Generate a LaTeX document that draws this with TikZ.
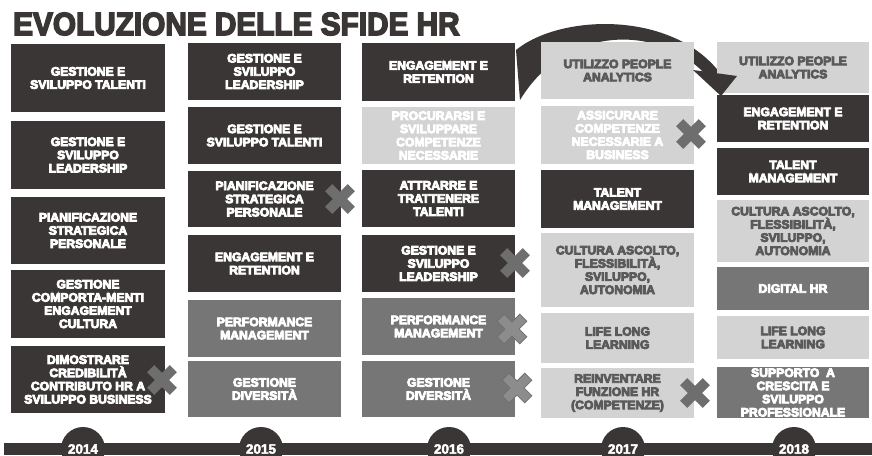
\documentclass[tikz,border=0pt]{standalone}
\usepackage{fontspec}
\setmainfont{Liberation Sans}

\definecolor{hrdark}{HTML}{3B3636}
\definecolor{hrmid}{HTML}{767676}
\definecolor{hrlight}{HTML}{D3D3D3}
\definecolor{hrtext}{HTML}{5A5A5A}
\definecolor{hrcross}{HTML}{6E6E6E}
\definecolor{hrcrosslight}{HTML}{8C8C8C}

% heavier lettering: fill and stroke the glyphs
\newcommand{\spessoon}[1]{\special{pdf:literal direct 2 Tr #1 w}}
\newcommand{\spessooff}{\special{pdf:literal direct 0 Tr 0.4 w}}

\tikzset{
  sfida/.style={inner sep=0pt, outer sep=0pt, align=center,
    font=\bfseries\fontsize{12.2}{13.2}\selectfont,
    execute at begin node={\spessoon{0.8}},
    execute at end node={\spessooff}},
  scura/.style={sfida, fill=hrdark, text=white},
  media/.style={sfida, fill=hrmid, text=white},
  chiara/.style={sfida, fill=hrlight, text=hrtext},
  chiarab/.style={sfida, fill=hrlight, text=white},
  col1/.style={minimum width=154pt},
  col2/.style={minimum width=153pt},
  col3/.style={minimum width=153pt},
  col4/.style={minimum width=153pt},
  col5/.style={minimum width=152pt},
  anno/.style={circle, fill=hrdark, minimum size=44pt, inner sep=0pt,
    text=white, font=\bfseries\fontsize{13.5}{13.5}\selectfont,
    execute at begin node={\spessoon{0.4}},
    execute at end node={\spessooff}},
  croce/.pic={
    \fill[hrcross, rotate=45] (-5,-16) -- (5,-16) -- (5,-5) -- (16,-5) -- (16,5)
      -- (5,5) -- (5,16) -- (-5,16) -- (-5,5) -- (-16,5) -- (-16,-5) -- (-5,-5) -- cycle;
  },
  crocevuota/.pic={
    \filldraw[fill=hrcrosslight, draw=hrcross, line width=0.8pt, rotate=45]
      (-5,-16) -- (5,-16) -- (5,-5) -- (16,-5) -- (16,5) -- (5,5) -- (5,16)
      -- (-5,16) -- (-5,5) -- (-16,5) -- (-16,-5) -- (-5,-5) -- cycle;
  },
}

\begin{document}
\begin{tikzpicture}[x=1pt, y=-1pt]
    \useasboundingbox (0,0) rectangle (872,455);
    \clip (0,0) rectangle (872,455);

    \node[anchor=base west, inner sep=0pt, text=hrdark,
          font=\bfseries\fontsize{32}{32}\selectfont,
          execute at begin node={\spessoon{1.6}},
          execute at end node={\spessooff}] (titolo) at (13,35)
          {\scalebox{0.93}[1]{EVOLUZIONE DELLE SFIDE HR}};

    % swoosh from 2016 to 2018, body behind the boxes
    \coordinate (arcoA) at (516,50);
    \coordinate (arcoB) at (720,73);
    \coordinate (arcoC) at (707,76);
    \coordinate (arcoD) at (520,100);
    \fill[hrdark] (arcoA) .. controls (560,14) and (672,10) .. (arcoB)
        -- (arcoC) .. controls (660,24) and (566,24) .. (arcoD) -- cycle;

    % 2014
    \node[scura, col1, minimum height=68pt] (a1) at (88,78) {GESTIONE E\\SVILUPPO TALENTI};
    \node[scura, col1, minimum height=68pt] (a2) at (88,155) {GESTIONE E\\SVILUPPO\\LEADERSHIP};
    \node[scura, col1, minimum height=67pt] (a3) at (88,230.5) {PIANIFICAZIONE\\STRATEGICA\\PERSONALE};
    \node[scura, col1, minimum height=68pt] (a4) at (88,304) {GESTIONE\\COMPORTA-MENTI\\ENGAGEMENT\\CULTURA};
    \node[scura, col1, minimum height=67pt] (a5) at (88,379.5) {DIMOSTRARE\\CREDIBILITÀ\\CONTRIBUTO HR A\\SVILUPPO BUSINESS};

    % 2015
    \node[scura, col2, minimum height=57pt] (b1) at (264.5,71.5) {GESTIONE E\\SVILUPPO\\LEADERSHIP};
    \node[scura, col2, minimum height=57pt] (b2) at (264.5,135.5) {GESTIONE E\\SVILUPPO TALENTI};
    \node[scura, col2, minimum height=56pt] (b3) at (264.5,199) {PIANIFICAZIONE\\STRATEGICA\\PERSONALE};
    \node[scura, col2, minimum height=57pt] (b4) at (264.5,263.5) {ENGAGEMENT E\\RETENTION};
    \node[media, col2, minimum height=57pt] (b5) at (264.5,328.5) {PERFORMANCE\\MANAGEMENT};
    \node[media, col2, minimum height=56pt] (b6) at (264.5,389) {GESTIONE\\DIVERSITÀ};

    % 2016
    \node[scura, col3, minimum height=58pt] (c1) at (438.5,72) {ENGAGEMENT E\\RETENTION};
    \node[chiarab, col3, minimum height=57pt] (c2) at (438.5,135.5) {PROCURARSI E\\SVILUPPARE\\COMPETENZE\\NECESSARIE};
    \node[scura, col3, minimum height=57pt] (c3) at (438.5,198.5) {ATTRARRE E\\TRATTENERE\\TALENTI};
    \node[scura, col3, minimum height=57pt] (c4) at (438.5,263.5) {GESTIONE E\\SVILUPPO\\LEADERSHIP};
    \node[media, col3, minimum height=57pt] (c5) at (438.5,326.5) {PERFORMANCE\\MANAGEMENT};
    \node[media, col3, minimum height=56pt] (c6) at (438.5,389) {GESTIONE\\DIVERSITÀ};

    % 2017
    \node[chiara, col4, minimum height=57pt] (d1) at (617.5,70.5) {UTILIZZO PEOPLE\\ANALYTICS};
    \node[chiarab, col4, minimum height=58pt] (d2) at (617.5,135) {ASSICURARE\\COMPETENZE\\NECESSARIE A\\BUSINESS};
    \node[scura, col4, minimum height=58pt] (d3) at (617.5,199) {TALENT\\MANAGEMENT};
    \node[chiara, col4, minimum height=74pt] (d4) at (617.5,270) {CULTURA ASCOLTO,\\FLESSIBILITÀ,\\SVILUPPO,\\AUTONOMIA};
    \node[chiara, col4, minimum height=50pt] (d5) at (617.5,338) {LIFE LONG\\LEARNING};
    \node[chiara, col4, minimum height=50pt] (d6) at (617.5,393) {REINVENTARE\\FUNZIONE HR\\(COMPETENZE)};

    % 2018
    \node[chiara, col5, minimum height=51pt] (e1) at (793,67.5) {UTILIZZO PEOPLE\\ANALYTICS};
    \node[scura, col5, minimum height=47pt] (e2) at (793,118.5) {ENGAGEMENT E\\RETENTION};
    \node[scura, col5, minimum height=47pt] (e3) at (793,171.5) {TALENT\\MANAGEMENT};
    \node[chiara, col5, minimum height=62pt] (e4) at (793,231) {CULTURA ASCOLTO,\\FLESSIBILITÀ,\\SVILUPPO,\\AUTONOMIA};
    \node[media, col5, minimum height=43pt] (e5) at (793,288.5) {DIGITAL HR};
    \node[chiara, col5, minimum height=43pt] (e6) at (793,337.5) {LIFE LONG\\LEARNING};
    \node[media, col5, minimum height=51pt] (e7) at (793,392.5) {SUPPORTO \ A\\CRESCITA E\\SVILUPPO\\PROFESSIONALE};

    % arrow head on top
    \coordinate (puntaL) at (693,70);
    \coordinate (puntaR) at (737,76);
    \coordinate (punta) at (721,96);
    \fill[hrdark] (puntaL) -- (puntaR) -- (punta) -- cycle;

    % dropped challenges
    \pic at (162,380) {croce};
    \pic at (340,199) {croce};
    \pic at (515,263) {croce};
    \pic at (512,329) {crocevuota};
    \pic at (517,388) {crocevuota};
    \pic at (691,134) {croce};
    \pic at (695,393) {croce};

    % timeline
    \coordinate (lineaA) at (4,443);
    \coordinate (lineaB) at (872,455);
    \fill[hrdark] (lineaA) rectangle (lineaB);
    \node[anno] (y2014) at (83,449) {2014};
    \node[anno] (y2015) at (261,449) {2015};
    \node[anno] (y2016) at (449,449) {2016};
    \node[anno] (y2017) at (623,449) {2017};
    \node[anno] (y2018) at (794,449) {2018};
\end{tikzpicture}
\end{document}
